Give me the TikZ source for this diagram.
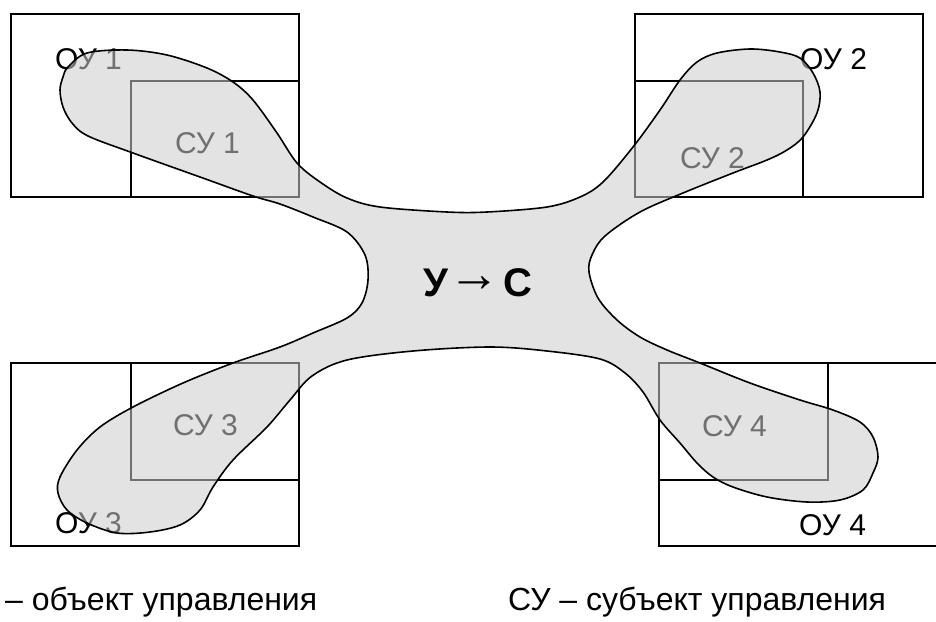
\documentclass[tikz,border=0pt]{standalone}
\usepackage{fontspec}
\setmainfont{Liberation Sans}
\begin{document}
\begin{tikzpicture}[x=1pt,y=-1pt,
  boxline/.style={draw=black,line width=1.5pt},
  lbl/.style={anchor=base west,inner sep=0pt,font=\fontsize{30}{36}\selectfont},
  legend/.style={anchor=base west,inner sep=0pt,font=\fontsize{32}{38}\selectfont},
  blobstyle/.style={draw=black,line width=1.6pt,fill=black!20,fill opacity=0.55},
  centre/.style={anchor=base west,inner sep=0pt,font=\fontsize{40}{48}\selectfont\bfseries}]
\useasboundingbox (0,0) rectangle (936,621);
% boxes
\draw[boxline] (11,14) rectangle (299,197);
\draw[boxline] (131,81) rectangle (299,197);
\draw[boxline] (635,14) rectangle (923,197);
\draw[boxline] (635,81) rectangle (803,197);
\draw[boxline] (11,363) rectangle (299,546);
\draw[boxline] (131,363) rectangle (299,480);
\draw[boxline] (659,363) rectangle (950,546);
\draw[boxline] (659,363) rectangle (828,480);
% labels
\node[lbl] (ou1) at (55,69) {ОУ 1};
\node[lbl] (ou2) at (800,69) {ОУ 2};
\node[lbl] (ou3) at (55,533) {ОУ 3};
\node[lbl] (ou4) at (799,535) {ОУ 4};
\node[lbl] (su1) at (175,153) {СУ 1};
\node[lbl] (su2) at (680,168) {СУ 2};
\node[lbl] (su3) at (173,435) {СУ 3};
\node[lbl] (su4) at (702,436) {СУ 4};
% blob
\draw[blobstyle] plot[smooth cycle,tension=0.55] coordinates {
 (68,67) (87,53) (127,50) (167,55) (207,68) (233,82) (253,100) (277,133) (297,163) (320,182)
 (347,198) (380,207) (447,212) (487,212) (547,207) (580,197) (603,182)
 (633,147) (660,110) (680,80) (697,62) (717,53) (750,49) (780,52) (800,58) (813,73) (820,92)
 (817,113) (803,137) (787,150) (767,160) (733,173) (683,193) (640,212)
 (605,236) (592,255) (589,272) (598,298) (617,320) (640,337)
 (667,350) (700,363) (750,383) (800,400) (833,410) (860,422) (873,437) (878,457) (873,473)
 (863,490) (840,500) (807,502) (767,497) (733,487) (713,477) (697,463) (680,443) (660,420)
 (643,392) (625,373) (600,359)
 (547,351) (490,347) (413,351) (347,360) (312,376)
 (290,400) (267,427) (233,460) (213,487) (200,510) (180,525) (150,532) (117,533) (87,523)
 (67,510) (58,493) (60,477) (77,450) (100,427) (133,407) (183,383) (233,363) (280,347)
 (313,333) (347,318) (362,303) (368,280) (365,255) (347,232) (313,217) (280,204)
 (253,196) (200,177) (133,153) (88,136) (72,123) (63,107) (60,90) (63,77)
};
\node[centre] (core) at (423,296) {У\raisebox{5pt}{\scalebox{1.3}[1.3]{\mdseries →}}\kern3pt С};
% legend
\node[legend] (leg1) at (5,610) {– объект управления};
\node[legend] (leg2) at (508,610) {СУ – субъект управления};
\end{tikzpicture}
\end{document}
